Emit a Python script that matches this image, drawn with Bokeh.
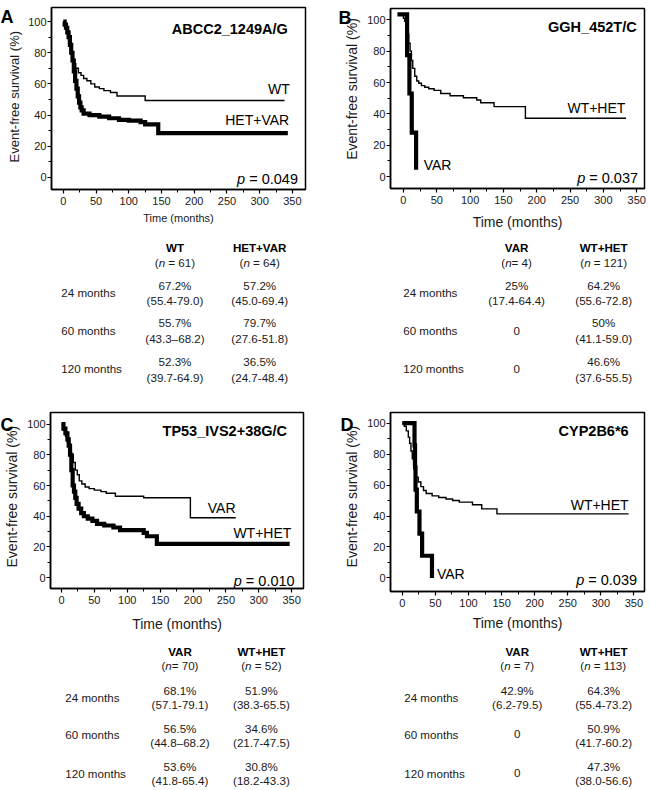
import math
from bokeh.plotting import figure
from bokeh.layouts import row, column
from bokeh.models import FixedTicker, Range1d
from bokeh.core.properties import value
from bokeh.embed import file_html
from bokeh.resources import INLINE

FONT = "Liberation Sans"
INK = "#1a1a1a"
NBSP = "\u00a0"

# ------------------------------------------------------------------ data
X_TICKS = [0, 50, 100, 150, 200, 250, 300, 350]
X_MINOR = [25, 75, 125, 175, 225, 275, 325]
Y_TICKS = [0, 20, 40, 60, 80, 100]
Y_MINOR = [10, 30, 50, 70, 90]
ROW_LABELS = ["24 months", "60 months", "120 months"]
X_TITLE = "Time (months)"
Y_TITLE = "Event-free survival (%)"

# Panel A
A_GENE = "ABCC2_1249A/G"
A_P = "0.049"
A_THIN_NAME = "WT"
A_THICK_NAME = "HET+VAR"
A_THIN_t = [0, 2, 4, 6, 8, 10, 12, 14, 16, 19, 23, 27, 31, 36, 42, 48, 55, 62, 72, 82, 125, 338]
A_THIN_s = [100, 98, 95, 92, 88, 84, 80, 76, 73, 70, 67.2, 65.5, 63.5, 62, 60, 58, 57, 55.7, 54.5, 52.3, 49.4, 49.4]
A_THICK_t = [0, 2, 4, 6, 8, 10, 12, 14, 16, 18, 20, 22, 24, 26, 28, 31, 40, 55, 70, 85, 100, 118, 125, 145, 343]
A_THICK_s = [100, 98, 96, 93, 90, 85, 80, 75, 68, 62, 57, 52, 48, 45, 43, 41, 40, 39, 38, 37, 36.5, 35.5, 34, 28.4, 28.4]
A_HEAD = ["WT", "HET+VAR"]
A_N = ["(n = 61)", "(n = 64)"]
A_EST1 = ["67.2%", "55.7%", "52.3%"]
A_CI1 = ["(55.4-79.0)", "(43.3\u201368.2)", "(39.7-64.9)"]
A_EST2 = ["57.2%", "79.7%", "36.5%"]
A_CI2 = ["(45.0-69.4)", "(27.6-51.8)", "(24.7-48.4)"]

# Panel B
B_GENE = "GGH_452T/C"
B_P = "0.037"
B_THIN_NAME = "WT+HET"
B_THICK_NAME = "VAR"
B_THIN_t = [-3, 0, 2, 4, 6, 8, 10, 12, 14, 17, 20, 23, 27, 32, 38, 46, 56, 70, 90, 110, 116, 136, 183, 334]
B_THIN_s = [103.4, 101, 99, 95, 91, 85, 80, 74, 69, 64, 61, 59.5, 58, 57, 56, 55, 53, 51.6, 50.3, 48.8, 47.1, 44.6, 37.2, 37.2]
B_THICK_t = [-9, 5.5, 9, 12.5, 19]
B_THICK_s = [103.4, 77.5, 53, 28, 4.4]
B_HEAD = ["VAR", "WT+HET"]
B_N = ["(n= 4)", "(n = 121)"]
B_EST1 = ["25%", "0", "0"]
B_CI1 = ["(17.4-64.4)", "", ""]
B_EST2 = ["64.2%", "50%", "46.6%"]
B_CI2 = ["(55.6-72.8)", "(41.1-59.0)", "(37.6-55.5)"]

# Panel C
C_GENE = "TP53_IVS2+38G/C"
C_P = "0.010"
C_THIN_NAME = "VAR"
C_THICK_NAME = "WT+HET"
C_THIN_t = [0, 3, 6, 9, 12, 15, 18, 21, 24, 27, 31, 36, 42, 50, 60, 68, 82, 125, 196, 265]
C_THIN_s = [100, 96, 92, 88, 84, 80, 75, 70, 67, 63, 61, 59, 58, 57, 56, 55, 53, 52, 39, 39]
C_THICK_t = [0, 3, 6, 9, 11, 13, 15, 17, 19, 21, 23, 26, 30, 34, 40, 47, 54, 65, 79, 89, 125, 130, 145, 347]
C_THICK_s = [100, 97, 94, 90, 86, 80, 70, 60, 56, 52, 48, 45, 42, 40, 38.5, 37, 35, 34, 32.7, 31, 29.2, 27, 22, 22]
C_HEAD = ["VAR", "WT+HET"]
C_N = ["(n= 70)", "(n = 52)"]
C_EST1 = ["68.1%", "56.5%", "53.6%"]
C_CI1 = ["(57.1-79.1)", "(44.8\u201368.2)", "(41.8-65.4)"]
C_EST2 = ["51.9%", "34.6%", "30.8%"]
C_CI2 = ["(38.3-65.5)", "(21.7-47.5)", "(18.2-43.3)"]

# Panel D
D_GENE = "CYP2B6*6"
D_P = "0.039"
D_THIN_NAME = "WT+HET"
D_THICK_NAME = "VAR"
D_THIN_t = [0, 3, 6, 9, 11, 13, 15, 17, 19, 21, 24, 28, 32, 36, 45, 55, 66, 76, 86, 106, 120, 143, 342]
D_THIN_s = [100, 98, 95, 91, 87, 82, 77, 73, 69, 65, 62, 59, 56.5, 54.5, 53, 52, 51, 50, 49, 47.3, 44.6, 41.4, 41.4]
D_THICK_t = [0, 18.4, 19.2, 19.9, 21.9, 25.9, 29.9, 44.8]
D_THICK_s = [100, 85.7, 71.4, 57.1, 42.9, 28.6, 14.3, 0]
D_HEAD = ["VAR", "WT+HET"]
D_N = ["(n = 7)", "(n = 113)"]
D_EST1 = ["42.9%", "0", "0"]
D_CI1 = ["(6.2-79.5)", "", ""]
D_EST2 = ["64.3%", "50.9%", "47.3%"]
D_CI2 = ["(55.4-73.2)", "(41.7-60.2)", "(38.0-56.6)"]

# ------------------------------------------------------------------ layout / style
TOTAL_W, TOTAL_H = 648, 788
REF_W, REF_H = 650, 790
SX, SY = TOTAL_W / REF_W, TOTAL_H / REF_H
COL_W = TOTAL_W // 2
ROWS_REF = [0, 233, 395, 640, REF_H]
ROWS = [round(v * SY) for v in ROWS_REF]
ROWS[-1] = TOTAL_H

ARIAL = {'(': 333, ')': 333, 'n': 556, ' ': 278, NBSP: 278, '=': 584, '.': 278, '-': 333,
         'p': 556, '%': 889}


def text_w(s, size):
    return sum(ARIAL.get(ch, 556) for ch in s) * size / 1000.0


def nb(s):
    return s.replace(" ", NBSP)


def blank_fig(w, h):
    f = figure(width=w, height=h, x_range=Range1d(0, w), y_range=Range1d(h, 0),
               output_backend="svg", toolbar_location=None, min_border=0,
               background_fill_color="white", border_fill_color="white")
    f.axis.visible = False
    f.grid.visible = False
    f.outline_line_color = None
    return f


def km_cell(geo, data):
    col, rix = geo["cell"]
    colx = col * COL_W
    top, bot = ROWS[rix], ROWS[rix + 1]
    h = bot - top
    sw = geo["strip_w"]
    w = COL_W - sw
    fx0, fx1, fy0, fy1 = geo["frame_ref"]
    bl = round(fx0 * SX - colx) - sw
    br = COL_W - round(fx1 * SX - colx)
    bt = round(fy0 * SY) - top
    bb = bot - round(fy1 * SY)

    # strip on the left: panel letter + y-axis title
    s = blank_fig(sw, h)
    yx, yy, ys = geo["ytitle"]
    s.text(x=[yx * SX - colx], y=[yy * SY - top], text=[Y_TITLE], text_font=value(FONT),
           text_font_size=ys, text_align="center", text_baseline="middle",
           angle=math.pi / 2, text_color=INK)
    lx, ly = geo["letter_ref"]
    s.text(x=[lx * SX - colx], y=[ly * SY - top], text=[geo["letter"]], text_font=value(FONT),
           text_font_size="18px", text_font_style="bold", text_align="left",
           text_baseline="top", text_color="black")

    p = figure(width=w, height=h, x_range=Range1d(*geo["xr"]), y_range=Range1d(*geo["yr"]),
               output_backend="svg", toolbar_location=None,
               min_border_left=bl, min_border_right=br, min_border_top=bt, min_border_bottom=bb,
               background_fill_color="white", border_fill_color="white")
    p.grid.visible = False
    p.outline_line_color = "black"
    p.outline_line_width = 1.5
    p.outline_line_alpha = 1.0

    xa = p.xaxis[0]
    xa.ticker = FixedTicker(ticks=X_TICKS, minor_ticks=X_MINOR)
    ya = p.yaxis[0]
    ya.ticker = FixedTicker(ticks=Y_TICKS, minor_ticks=Y_MINOR)
    for ax in (xa, ya):
        ax.axis_line_width = 1.5
        ax.axis_line_color = "black"
        ax.major_tick_line_color = "black"
        ax.minor_tick_line_color = "black"
        ax.major_tick_line_width = 1.2
        ax.minor_tick_line_width = 1.0
        ax.major_tick_out = 4
        ax.major_tick_in = 0
        ax.minor_tick_out = 3
        ax.minor_tick_in = 0
        ax.major_label_text_font = FONT
        ax.major_label_text_font_size = "11px"
        ax.major_label_text_color = INK
        ax.major_label_standoff = 1
        ax.axis_label_text_font = FONT
        ax.axis_label_text_font_style = "normal"
        ax.axis_label_text_color = INK
    xa.major_label_standoff = 3
    xa.axis_label = X_TITLE
    xa.axis_label_text_font_size = geo["xlab_size"]
    xa.axis_label_standoff = geo["xlab_standoff"]

    p.step(x=data["thin_t"], y=data["thin_s"], mode="after", line_color="black",
           line_width=1.4, line_join="miter")
    p.step(x=data["thick_t"], y=data["thick_s"], mode="after", line_color="black",
           line_width=4.2, line_join="miter")

    gx, gy = geo["gene_at"]
    p.text(x=[gx], y=[gy], text=[data["gene"]], text_font=value(FONT), text_font_size="14.5px",
           text_font_style="bold", text_align="right", text_baseline="middle", text_color="black")
    for key in ("thin", "thick"):
        lx_, ly_, al = geo[key + "_lab"]
        p.text(x=[lx_], y=[ly_], text=[data[key + "_name"]], text_font=value(FONT),
               text_font_size="14px", text_align=al, text_baseline="middle", text_color="black")
    px_, py_ = geo["p_at"]
    rest = nb(" = " + data["p"])
    fs = 14.5
    p.text(x=[px_], y=[py_], text=[rest], text_font=value(FONT), text_font_size="%spx" % fs,
           text_align="right", text_baseline="middle", text_color="black")
    p.text(x=[px_], y=[py_], text=["p"], text_font=value(FONT), text_font_size="%spx" % fs,
           text_font_style="italic", text_align="right", text_baseline="middle",
           text_color="black", x_offset=-text_w(rest, fs))
    return row(s, p)


def table_fig(geo, data):
    col, rix = geo["cell"]
    ox = col * COL_W
    oy = ROWS[rix]
    t = blank_fig(COL_W, ROWS[rix + 1] - ROWS[rix])

    def X(x):
        return x * SX - ox

    def Y(y):
        return y * SY - oy

    fs = 11.6
    fsz = "%spx" % fs
    common = dict(text_font=value(FONT), text_font_size=fsz, text_baseline="middle", text_color=INK)
    for cx, head, ntxt in zip(geo["cols"], data["head"], data["n"]):
        t.text(x=[X(cx)], y=[Y(geo["head_y"])], text=[head], text_align="center",
               text_font_style="bold", **dict(common, text_color="black"))
        i = ntxt.index("n")
        pre, mid, post = ntxt[:i], "n", nb(ntxt[i + 1:])
        tot = text_w(ntxt, fs)
        x0 = X(cx) - tot / 2
        t.text(x=[x0], y=[Y(geo["n_y"])], text=[pre], text_align="left", **common)
        t.text(x=[x0 + text_w(pre, fs)], y=[Y(geo["n_y"])], text=[mid], text_align="left",
               text_font_style="italic", **common)
        t.text(x=[x0 + text_w(pre + mid, fs)], y=[Y(geo["n_y"])], text=[post], text_align="left",
               **common)
    t.text(x=[X(geo["label_x"])] * 3, y=[Y(v) for v in geo["row_y"]], text=ROW_LABELS,
           text_align="left", **common)
    for cx, ests, cis in zip(geo["cols"], (data["est1"], data["est2"]), (data["ci1"], data["ci2"])):
        for k in range(3):
            if cis[k]:
                t.text(x=[X(cx)], y=[Y(geo["l1_y"][k])], text=[ests[k]], text_align="center", **common)
                t.text(x=[X(cx)], y=[Y(geo["l2_y"][k])], text=[cis[k]], text_align="center", **common)
            else:
                t.text(x=[X(cx)], y=[Y(geo["row_y"][k])], text=[ests[k]], text_align="center", **common)
    return t


def pack(gene, p, thin_n, thick_n, tt, ts, kt, ks, head, n, e1, c1, e2, c2):
    return dict(gene=gene, p=p, thin_name=thin_n, thick_name=thick_n, thin_t=tt, thin_s=ts,
                thick_t=kt, thick_s=ks, head=head, n=n, est1=e1, ci1=c1, est2=e2, ci2=c2)


dA = pack(A_GENE, A_P, A_THIN_NAME, A_THICK_NAME, A_THIN_t, A_THIN_s, A_THICK_t, A_THICK_s,
          A_HEAD, A_N, A_EST1, A_CI1, A_EST2, A_CI2)
dB = pack(B_GENE, B_P, B_THIN_NAME, B_THICK_NAME, B_THIN_t, B_THIN_s, B_THICK_t, B_THICK_s,
          B_HEAD, B_N, B_EST1, B_CI1, B_EST2, B_CI2)
dC = pack(C_GENE, C_P, C_THIN_NAME, C_THICK_NAME, C_THIN_t, C_THIN_s, C_THICK_t, C_THICK_s,
          C_HEAD, C_N, C_EST1, C_CI1, C_EST2, C_CI2)
dD = pack(D_GENE, D_P, D_THIN_NAME, D_THICK_NAME, D_THIN_t, D_THIN_s, D_THICK_t, D_THICK_s,
          D_HEAD, D_N, D_EST1, D_CI1, D_EST2, D_CI2)

gA = dict(cell=(0, 0), strip_w=25, frame_ref=(49, 306, 7, 189), xr=(-18.1, 370), yr=(-7.7, 109),
          xlab_size="11px", xlab_standoff=4, gene_at=(343, 95.3),
          thin_lab=(346, 56.9, "right"), thick_lab=(345, 37, "right"), p_at=(358.5, -0.9),
          letter="A", letter_ref=(0, -1), ytitle=(14.5, 114, "13px"))
gB = dict(cell=(1, 0), strip_w=40, frame_ref=(391, 646, 8, 189), xr=(-19.4, 361.7), yr=(-7.6, 107.2),
          xlab_size="14px", xlab_standoff=7, gene_at=(350, 95.3),
          thin_lab=(333, 44, "right"), thick_lab=(30.4, 7.6, "left"), p_at=(352, -0.8),
          letter="B", letter_ref=(339, -1), ytitle=(352.5, 104, "14px"))
gC = dict(cell=(0, 2), strip_w=24, frame_ref=(50, 304, 412.7, 589), xr=(-16.7, 368), yr=(-7.0, 107.5),
          xlab_size="14px", xlab_standoff=9, gene_at=(343, 95.2),
          thin_lab=(264.7, 45.4, "right"), thick_lab=(349.5, 29.2, "right"), p_at=(354.5, -2.2),
          letter="C", letter_ref=(0, 398), ytitle=(12, 512, "14px"))
gD = dict(cell=(1, 2), strip_w=40, frame_ref=(389, 646, 413.3, 593), xr=(-17.9, 366), yr=(-8.8, 106.9),
          xlab_size="14px", xlab_standoff=5, gene_at=(342, 95),
          thin_lab=(342, 47.2, "right"), thick_lab=(52.3, 2.8, "left"), p_at=(354.7, -1.5),
          letter="D", letter_ref=(341, 398), ytitle=(352.5, 510, "14px"))

ROWS1 = dict(head_y=247.3, n_y=262.7, row_y=[292.3, 331, 369], l1_y=[285.7, 323.3, 361.7],
             l2_y=[301, 339, 377.7])
ROWS2 = dict(head_y=652.3, n_y=667, row_y=[698.3, 735.7, 774.5], l1_y=[691.3, 729.6, 767.8],
             l2_y=[706, 743.6, 781.6])
tA = dict(ROWS1, cell=(0, 1), cols=[175, 260], label_x=61)
tB = dict(ROWS1, cell=(1, 1), cols=[517.7, 605], label_x=404)
tC = dict(ROWS2, cell=(0, 3), cols=[180, 261.7], label_x=65)
tD = dict(ROWS2, cell=(1, 3), cols=[518.3, 605], label_x=405)

layout = column(
    row(km_cell(gA, dA), km_cell(gB, dB)),
    row(table_fig(tA, dA), table_fig(tB, dB)),
    row(km_cell(gC, dC), km_cell(gD, dD)),
    row(table_fig(tC, dC), table_fig(tD, dD)),
)

open("out.html", "w").write(file_html(layout, INLINE))
